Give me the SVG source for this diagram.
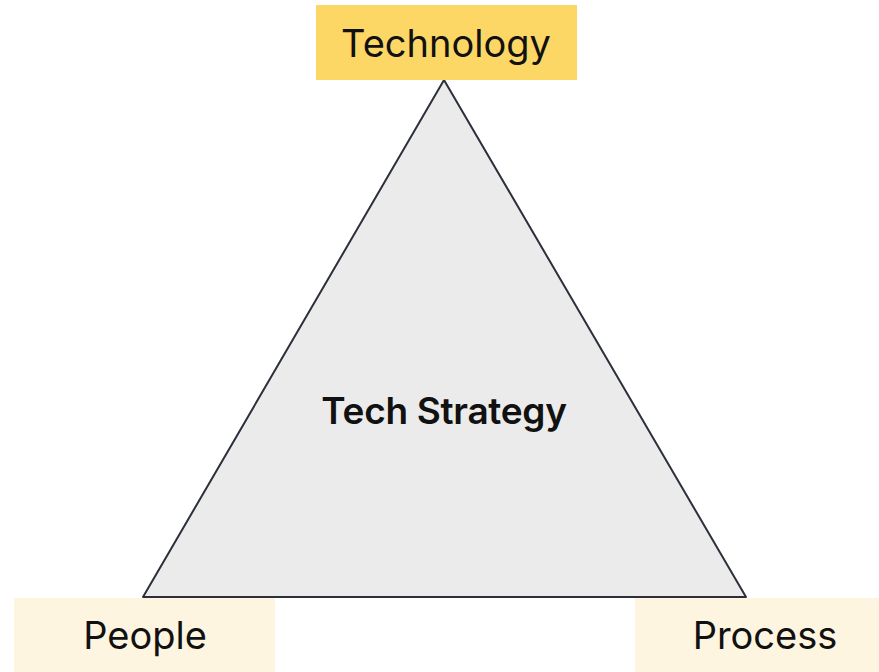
<svg xmlns="http://www.w3.org/2000/svg" width="879" height="672" viewBox="0 0 879 672">
<style>
.lbl{font-family:Inter,"Noto Sans","Liberation Sans",sans-serif;font-size:38px;fill:#111;text-anchor:middle}
.title{font-family:Inter,"Noto Sans","Liberation Sans",sans-serif;font-size:37px;font-weight:600;fill:#111;text-anchor:middle;letter-spacing:-0.3px}
</style>
<rect width="879" height="672" fill="#ffffff"/>
<g id="connectors"></g>
<g id="strategy">
<polygon points="444,80 143,597 746,597" fill="#ebebeb" stroke="#2b303a" stroke-width="2" stroke-linejoin="round"/>
<text class="title" x="444" y="424">Tech Strategy</text>
</g>
<g id="technology">
<rect x="316" y="5" width="261" height="75" fill="#fdd765"/>
<text class="lbl" x="446" y="57">Technology</text>
</g>
<g id="people">
<rect x="14" y="598" width="261" height="74" fill="#fef5e1"/>
<text class="lbl" x="145" y="649">People</text>
</g>
<g id="process">
<rect x="635" y="598" width="244" height="74" fill="#fef5e1"/>
<text class="lbl" x="765" y="649">Process</text>
</g>
</svg>
